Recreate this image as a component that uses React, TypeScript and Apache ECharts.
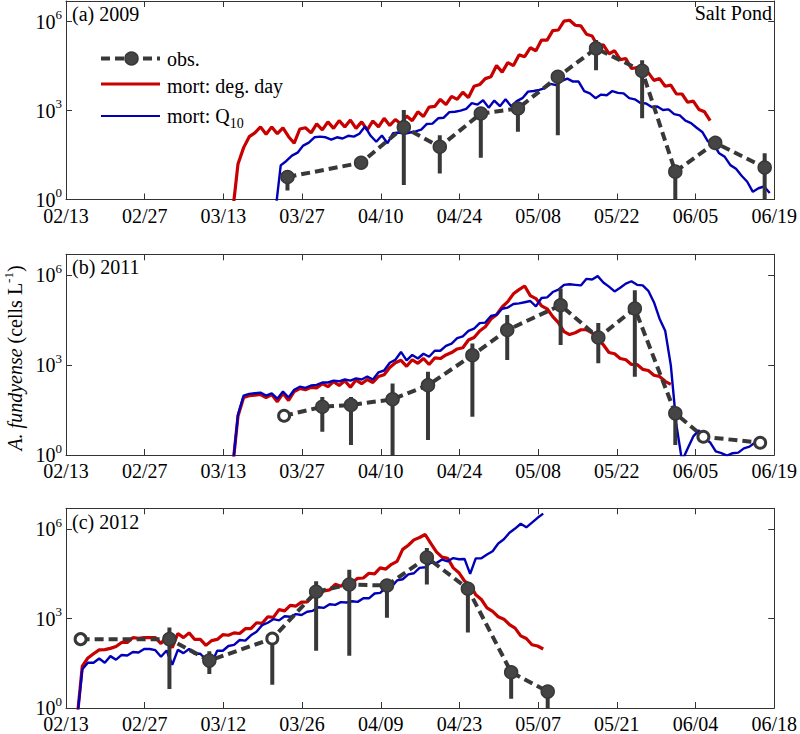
import React, { useEffect, useRef } from 'react';
import * as echarts from 'echarts';

// ---------- tick labels (x = days since 02/13, every 14 days) ----------
const xTicks2009 = ['02/13', '02/27', '03/13', '03/27', '04/10', '04/24', '05/08', '05/22', '06/05', '06/19'];
const xTicks2011 = ['02/13', '02/27', '03/13', '03/27', '04/10', '04/24', '05/08', '05/22', '06/05', '06/19'];
const xTicks2012 = ['02/13', '02/27', '03/12', '03/26', '04/09', '04/23', '05/07', '05/21', '06/04', '06/18'];
const panelTitles = ['(a) 2009', '(b) 2011', '(c) 2012'];

// ---------- observations: day since 02/13, log10(cells/L), error-bar bounds ----------
const obsDay2009 = [39.4, 52.5, 60.1, 66.5, 73.8, 80.4, 87.5, 94.3, 102.5, 108.4, 115.5, 124.3];
const obsLog2009 = [0.76, 1.24, 2.44, 1.78, 2.9, 3.07, 4.14, 5.1, 4.34, 0.94, 1.91, 1.08];
const obsLo2009 = [0.3, null, 0.49, 0.88, 1.41, 2.29, 2.17, 4.36, 2.74, -1, null, -1];
const obsHi2009 = [0.95, null, 3.02, 2.17, 3.1, 3.2, 4.3, 5.38, 4.7, 1.1, null, 1.56];
const obsOpen2009: number[] = [];

const obsDay2011 = [38.8, 45.6, 50.7, 58.1, 64.4, 72.3, 78.5, 88.0, 94.7, 101.2, 108.4, 113.4, 123.5];
const obsLog2011 = [1.31, 1.61, 1.67, 1.86, 2.33, 3.33, 4.17, 5.0, 3.92, 4.89, 1.39, 0.61, 0.41];
const obsLo2011 = [null, 0.78, 0.33, -1, 0.5, 1.28, 3.17, 3.67, 3.06, 2.61, 0.33, null, null];
const obsHi2011 = [null, 1.94, 1.94, 2.39, 2.78, 3.72, 4.67, 5.56, 4.41, 5.5, 1.6, null, null];
const obsOpen2011 = [0, 11, 12];

const obsDay2012 = [2.6, 18.4, 25.5, 36.7, 44.5, 50.4, 57.1, 64.2, 71.5, 79.2, 85.7];
const obsLog2012 = [2.31, 2.31, 1.59, 2.33, 3.9, 4.14, 4.11, 5.05, 4.0, 1.2, 0.55];
const obsLo2012 = [null, 0.64, 1.14, 0.78, 1.92, 1.75, 3.03, 4.14, 2.53, 0.31, -1];
const obsHi2012 = [null, 2.7, 1.9, 2.45, 4.25, 4.64, 4.31, 5.37, 4.2, 1.35, 0.7];
const obsOpen2012 = [0, 3];

// ---------- model runs: daily log10(cells/L), first value at the start day ----------
const degDayStart2009 = 29.6;
const degDayLog2009 = [
  -0.5, 1.2, 1.75, 2.12, 2.25, 2.45, 2.2, 2.45, 2.22, 2.42,
  2.12, 1.9, 2.38, 2.42, 2.25, 2.55, 2.35, 2.62, 2.4, 2.66,
  2.45, 2.68, 2.4, 2.62, 2.35, 2.65, 2.45, 2.74, 2.5, 2.7,
  2.55, 2.82, 2.66, 2.96, 2.8, 3.12, 3.14, 3.38, 3.2, 3.48,
  3.38, 3.62, 3.44, 3.82, 3.88, 4.08, 4.14, 4.52, 4.3, 4.62,
  4.52, 4.88, 4.82, 5.12, 5.02, 5.38, 5.38, 5.7, 5.72, 6.02,
  6.05, 5.88, 5.86, 5.58, 5.52, 5.18, 5.22, 4.92, 5.02, 4.72,
  4.76, 4.42, 4.45, 4.22, 4.28, 4.02, 4.08, 3.82, 3.86, 3.56,
  3.56, 3.28, 3.32, 3.04, 2.96, 2.66,
];
const q10Start2009 = 37.2;
const q10Log2009 = [
  -0.5, 1.15, 1.3, 1.48, 1.58, 1.82, 1.92, 2.1, 2.12, 2.1,
  2.02, 2.1, 2.06, 2.15, 2.12, 2.22, 2.46, 2.15, 1.95, 2.16,
  1.9, 2.24, 2.26, 2.22, 2.26, 2.3, 2.36, 2.55, 2.56, 2.74,
  2.76, 2.95, 2.96, 3.0, 3.06, 3.25, 3.2, 3.35, 3.1, 3.34,
  3.15, 3.38, 3.15, 3.32, 3.42, 3.64, 3.66, 3.7, 3.76, 3.9,
  3.86, 4.0, 4.08, 3.98, 3.98, 3.66, 3.58, 3.42, 3.54, 3.52,
  3.66, 3.6, 3.58, 3.42, 3.38, 3.26, 3.24, 3.12, 3.14, 3.02,
  3.04, 2.88, 2.84, 2.66, 2.58, 2.42, 2.28, 1.96, 1.88, 1.56,
  1.44, 1.16, 1.04, 0.8, 0.6, 0.26, 0.38, 0.44, 0.22,
];

const degDayStart2011 = 29.6;
const degDayLog2011 = [
  -0.5, 1.3, 1.92, 1.98, 2.0, 2.02, 1.92, 2.02, 1.78, 2.06,
  1.82, 2.12, 2.22, 2.18, 2.26, 2.24, 2.38, 2.28, 2.45, 2.32,
  2.48, 2.26, 2.5, 2.38, 2.52, 2.42, 2.62, 2.68, 2.92, 3.08,
  3.16, 2.96, 3.18, 3.06, 3.22, 3.02, 3.24, 3.22, 3.34, 3.42,
  3.54, 3.58, 3.84, 3.92, 4.14, 4.28, 4.54, 4.68, 4.94, 5.12,
  5.38, 5.52, 5.64, 5.32, 5.22, 4.98, 4.88, 4.62, 4.42, 4.12,
  4.02, 4.08, 4.18, 4.18, 4.08, 3.86, 3.68, 3.42, 3.38, 3.22,
  3.18, 3.02, 3.02, 2.86, 2.82, 2.66, 2.62, 2.46, 2.36,
];
const q10Start2011 = 29.6;
const q10Log2011 = [
  -0.5, 1.35, 1.98, 2.04, 2.06, 2.08, 1.98, 2.06, 1.88, 2.12,
  1.92, 2.18, 2.28, 2.24, 2.32, 2.34, 2.42, 2.42, 2.48, 2.46,
  2.52, 2.48, 2.56, 2.52, 2.62, 2.52, 2.76, 2.82, 3.08, 3.18,
  3.44, 3.16, 3.34, 3.22, 3.38, 3.28, 3.48, 3.48, 3.64, 3.72,
  3.9, 3.96, 4.14, 4.22, 4.4, 4.42, 4.64, 4.68, 4.88, 4.92,
  5.04, 5.06, 5.1, 5.14, 4.96, 5.24, 5.26, 5.44, 5.52, 5.68,
  5.7, 5.68, 5.66, 5.88, 5.86, 5.97, 5.76, 5.62, 5.46, 5.58,
  5.72, 5.8, 5.68, 5.66, 5.48, 5.1, 4.55, 4.15, 3.0, 1.0,
  -0.2, 0.22, 0.62, 0.82, 0.56, 0.42, 0.12, 0.06, -0.02, 0.06,
  0.08, 0.22, 0.28, 0.42,
];

const degDayStart2012 = 1.9;
const degDayLog2012 = [
  -0.5, 1.4, 1.68, 1.82, 1.95, 1.96, 2.0, 2.06, 2.2, 2.2,
  2.36, 2.34, 2.36, 2.36, 2.36, 2.16, 2.4, 2.02, 2.5, 2.36,
  2.52, 2.3, 2.3, 2.1, 2.26, 2.3, 2.46, 2.44, 2.52, 2.5,
  2.66, 2.66, 2.86, 2.84, 3.06, 3.04, 3.3, 3.26, 3.44, 3.42,
  3.55, 3.56, 3.75, 3.76, 3.93, 3.96, 4.15, 4.08, 4.25, 4.2,
  4.35, 4.36, 4.52, 4.5, 4.7, 4.66, 4.82, 4.92, 5.32, 5.46,
  5.64, 5.72, 5.82, 5.52, 5.24, 5.06, 5.02, 4.7, 4.54, 4.26,
  4.14, 3.8, 3.64, 3.36, 3.24, 3.06, 2.98, 2.8, 2.68, 2.42,
  2.33, 2.12, 2.08, 1.98,
];
const q10Start2012 = 1.9;
const q10Log2012 = [
  -0.5, 1.3, 1.52, 1.52, 1.66, 1.52, 1.74, 1.62, 1.78, 1.76,
  1.88, 1.86, 1.98, 1.98, 1.94, 1.72, 1.93, 1.45, 1.95, 1.84,
  1.98, 1.82, 1.82, 1.62, 1.5, 1.92, 1.92, 2.08, 2.12, 2.28,
  2.26, 2.44, 2.56, 2.78, 2.86, 2.98, 2.94, 3.08, 3.06, 3.15,
  3.12, 3.23, 3.26, 3.38, 3.36, 3.48, 3.46, 3.55, 3.54, 3.58,
  3.56, 3.68, 3.68, 3.84, 3.86, 4.04, 4.06, 4.28, 4.32, 4.48,
  4.52, 4.7, 4.72, 4.88, 4.86, 4.98, 4.92, 5.03, 4.99, 5.0,
  4.5, 5.02, 5.02, 5.15, 5.26, 5.52, 5.66, 5.88, 6.02, 6.18,
  6.06, 6.22, 6.38, 6.52,
];

// ---------- styling / layout ----------
const FONT = '"Liberation Serif", "Times New Roman", Tinos, "DejaVu Serif", "Noto Serif", serif';
const RED = '#c80000';
const BLUE = '#0000b8';
const OBS = '#383838';
const OBS_FILL = '#454545';
const AXIS = '#333333';
const X_MAX = 126;
const X_STEP = 14;
const Y_MAX = Math.log10(5e6);
const GRID_LEFT = 66;
const GRID_WIDTH = 711.7;
const GRID_TOPS = [1, 254.3, 508.3];
const GRID_HEIGHTS = [198.5, 200.7, 201];
const TITLE_Y = [13.5, 267, 521.5];

type Panel = {
  ticks: string[];
  redStart: number; red: number[];
  blueStart: number; blue: number[];
  obsDay: number[]; obsLog: number[]; obsLo: (number | null)[]; obsHi: (number | null)[]; open: number[];
};

const panels: Panel[] = [
  { ticks: xTicks2009, redStart: degDayStart2009, red: degDayLog2009, blueStart: q10Start2009, blue: q10Log2009,
    obsDay: obsDay2009, obsLog: obsLog2009, obsLo: obsLo2009, obsHi: obsHi2009, open: obsOpen2009 },
  { ticks: xTicks2011, redStart: degDayStart2011, red: degDayLog2011, blueStart: q10Start2011, blue: q10Log2011,
    obsDay: obsDay2011, obsLog: obsLog2011, obsLo: obsLo2011, obsHi: obsHi2011, open: obsOpen2011 },
  { ticks: xTicks2012, redStart: degDayStart2012, red: degDayLog2012, blueStart: q10Start2012, blue: q10Log2012,
    obsDay: obsDay2012, obsLog: obsLog2012, obsLo: obsLo2012, obsHi: obsHi2012, open: obsOpen2012 },
];

const daily = (start: number, vals: number[]) => vals.map((v, i) => [start + i, v]);

function buildOption() {
  const grid = panels.map((_, i) => ({
    left: GRID_LEFT, width: GRID_WIDTH, top: GRID_TOPS[i], height: GRID_HEIGHTS[i],
  }));

  const xAxis: any[] = [];
  const yAxis: any[] = [];
  panels.forEach((p, i) => {
    const common = {
      type: 'value', gridIndex: i, min: 0, max: X_MAX, interval: X_STEP,
      axisLine: { show: true, onZero: false, lineStyle: { color: AXIS, width: 1 } },
      axisTick: { show: true, inside: true, length: 6, lineStyle: { color: AXIS, width: 1 } },
      splitLine: { show: false },
    };
    xAxis.push({
      ...common, position: 'bottom',
      axisLabel: {
        show: true, margin: 6, fontSize: 20, fontFamily: FONT, color: '#000',
        showMinLabel: true, showMaxLabel: true,
        formatter: (v: number) => p.ticks[Math.round(v / X_STEP)] ?? '',
      },
    });
    xAxis.push({ ...common, position: 'top', axisLabel: { show: false } });

    const ycommon = {
      type: 'value', gridIndex: i, min: 0, max: Y_MAX, interval: 3,
      axisLine: { show: true, onZero: false, lineStyle: { color: AXIS, width: 1 } },
      axisTick: { show: true, inside: true, length: 6, lineStyle: { color: AXIS, width: 1 } },
      splitLine: { show: false },
    };
    yAxis.push({
      ...ycommon, position: 'left',
      axisLabel: {
        show: true, margin: 4, color: '#000', fontFamily: FONT,
        showMinLabel: true, showMaxLabel: false,
        formatter: (v: number) => {
          const k = Math.round(v / 3) * 3;
          if (Math.abs(v - k) > 1e-6) return '';
          return `{b|10}{s|${k}}`;
        },
        rich: {
          b: { fontSize: 20, fontFamily: FONT, color: '#000' },
          s: { fontSize: 13, fontFamily: FONT, color: '#000', padding: [0, 0, 14, 0] },
        },
      },
    });
    yAxis.push({ ...ycommon, position: 'right', axisLabel: { show: false } });
  });

  const series: any[] = [];
  panels.forEach((p, i) => {
    const xi = 2 * i;
    series.push({
      type: 'line', name: 'mort: deg. day', xAxisIndex: xi, yAxisIndex: xi,
      data: daily(p.redStart, p.red), showSymbol: false, symbol: 'none', clip: true, silent: true,
      lineStyle: { color: RED, width: 3.2 }, z: 2,
    });
    series.push({
      type: 'line', name: 'mort: Q10', xAxisIndex: xi, yAxisIndex: xi,
      data: daily(p.blueStart, p.blue), showSymbol: false, symbol: 'none', clip: true, silent: true,
      lineStyle: { color: BLUE, width: 2.4 }, z: 3,
    });
    const bars = p.obsDay
      .map((d, k) => (p.obsLo[k] == null || p.obsHi[k] == null ? null : [d, p.obsLo[k], p.obsHi[k]]))
      .filter((r) => r != null);
    series.push({
      type: 'custom', name: 'obs. error', xAxisIndex: xi, yAxisIndex: xi, silent: true, z: 4, clip: true,
      data: bars,
      renderItem: (params: any, api: any) => {
        const d = api.value(0);
        const top = api.coord([d, api.value(2)]);
        const bot = api.coord([d, api.value(1)]);
        const cs = params.coordSys;
        return {
          type: 'line',
          shape: { x1: top[0], y1: Math.max(top[1], cs.y), x2: bot[0], y2: Math.min(bot[1], cs.y + cs.height) },
          style: { stroke: OBS, lineWidth: 4 },
        };
      },
    });
    series.push({
      type: 'line', name: 'obs.', xAxisIndex: xi, yAxisIndex: xi, silent: true, z: 5, clip: true,
      symbol: 'circle', symbolSize: 13, showSymbol: true, showAllSymbol: true,
      lineStyle: { color: OBS, width: 4, type: [9, 5] },
      itemStyle: { color: OBS_FILL, borderColor: OBS, borderWidth: 1.5 },
      data: p.obsDay.map((d, k) =>
        p.open.includes(k)
          ? { value: [d, p.obsLog[k]], symbolSize: 11, itemStyle: { color: '#ffffff', borderColor: OBS, borderWidth: 3 } }
          : [d, p.obsLog[k]],
      ),
    });
  });

  const txt = (extra: any) => ({ fontSize: 20, fontFamily: FONT, fill: '#000', ...extra });
  const graphic: any[] = [];
  panelTitles.forEach((t, i) => {
    graphic.push({
      type: 'text', x: 72, y: TITLE_Y[i], z: 10,
      style: txt({ text: t, align: 'left', verticalAlign: 'middle' }),
    });
  });
  graphic.push({
    type: 'text', x: 772, y: 13, z: 10,
    style: txt({ text: 'Salt Pond', align: 'right', verticalAlign: 'middle' }),
  });
  // legend
  graphic.push(
    { type: 'line', z: 10, shape: { x1: 101, y1: 58.5, x2: 160, y2: 58.5 }, style: { stroke: OBS, lineWidth: 4, lineDash: [9, 5] } },
    { type: 'circle', z: 11, shape: { cx: 131.5, cy: 58.5, r: 6.5 }, style: { fill: OBS_FILL, stroke: OBS, lineWidth: 1.5 } },
    { type: 'line', z: 10, shape: { x1: 101, y1: 84, x2: 160, y2: 84 }, style: { stroke: RED, lineWidth: 3 } },
    { type: 'line', z: 10, shape: { x1: 101, y1: 116, x2: 160, y2: 116 }, style: { stroke: BLUE, lineWidth: 2 } },
    { type: 'text', z: 10, x: 167, y: 59, style: txt({ text: 'obs.', verticalAlign: 'middle' }) },
    { type: 'text', z: 10, x: 167, y: 86, style: txt({ text: 'mort: deg. day', verticalAlign: 'middle' }) },
    {
      type: 'text', z: 10, x: 167, y: 116,
      style: txt({
        text: '{a|mort: Q}{b|10}', verticalAlign: 'middle',
        rich: {
          a: { fontSize: 20, fontFamily: FONT, fill: '#000' },
          b: { fontSize: 14, fontFamily: FONT, fill: '#000', padding: [14, 0, 0, 0] },
        },
      }),
    },
  );
  // y-axis title
  graphic.push({
    type: 'text', z: 10, x: 15, y: 358, rotation: Math.PI / 2,
    style: txt({
      text: '{i|A. fundyense} {n|(cells L}{s|-1}{n|)}', align: 'center', verticalAlign: 'middle',
      rich: {
        i: { fontSize: 20, fontFamily: FONT, fontStyle: 'italic', fill: '#000' },
        n: { fontSize: 20, fontFamily: FONT, fill: '#000' },
        s: { fontSize: 13, fontFamily: FONT, fill: '#000', padding: [0, 0, 14, 0] },
      },
    }),
  });

  return {
    animation: false,
    backgroundColor: '#ffffff',
    textStyle: { fontFamily: FONT },
    grid, xAxis, yAxis, series, graphic,
  };
}

export default function App() {
  const ref = useRef<HTMLDivElement>(null);
  useEffect(() => {
    if (!ref.current) return;
    const chart = echarts.init(ref.current, null, { renderer: 'svg' });
    chart.setOption(buildOption() as any);
    return () => chart.dispose();
  }, []);
  return (
    <div
      ref={ref}
      style={{ position: 'fixed', left: 0, top: 0, width: 800, height: 734, background: '#ffffff', fontFamily: 'serif' }}
    />
  );
}
